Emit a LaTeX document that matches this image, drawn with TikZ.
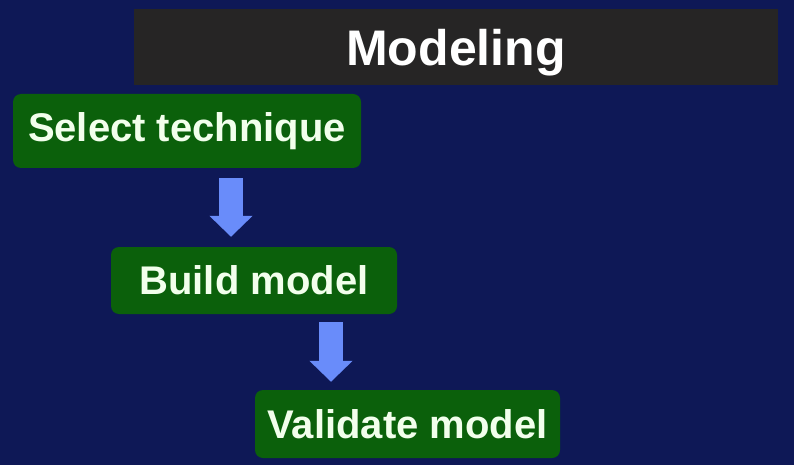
\documentclass[tikz,border=0pt]{standalone}
\usepackage{fontspec}
\setmainfont{Liberation Sans}
\usetikzlibrary{arrows.meta}
\definecolor{slideNavy}{RGB}{14,24,86}
\definecolor{barGray}{RGB}{38,37,37}
\definecolor{stepGreen}{RGB}{11,96,11}
\definecolor{stepText}{RGB}{242,255,236}
\definecolor{flowBlue}{RGB}{105,140,250}

\begin{document}
\begin{tikzpicture}[
  x=1pt, y=-1pt,
  titlebar/.style={
    fill=barGray,
    inner sep=0pt,
    text depth=0pt,
    text=white,
    font=\fontsize{50}{60}\selectfont\bfseries,
  },
  stepbox/.style={
    fill=stepGreen,
    rounded corners=8pt,
    inner sep=0pt,
    text=stepText,
    font=\fontsize{40}{48}\selectfont\bfseries,
  },
  flow/.style={
    draw=flowBlue,
    line width=24pt,
    -{Triangle[length=21pt,width=42pt]},
  },
]

  \fill[slideNavy] (0,0) rectangle (794,465);
  \useasboundingbox (0,0) rectangle (794,465);

  \node[titlebar, minimum width=644pt, minimum height=76pt] (title) at (456,47)
    {Modeling};

  \node[stepbox, minimum width=348pt, minimum height=74pt] (select) at (187,131)
    {Select technique};
  \node[stepbox, minimum width=286pt, minimum height=67pt] (build) at (254,280.5)
    {Build model};
  \node[stepbox, minimum width=305pt, minimum height=68pt] (validate) at (407.5,424)
    {Validate model};

  \coordinate (a1) at (231,0);
  \coordinate (a2) at (331,0);

  \draw[flow] ([yshift=-10pt] select.south -| a1) -- ([yshift=10pt] build.north -| a1);
  \draw[flow] ([yshift=-8pt] build.south -| a2) -- ([yshift=8pt] validate.north -| a2);

\end{tikzpicture}
\end{document}
